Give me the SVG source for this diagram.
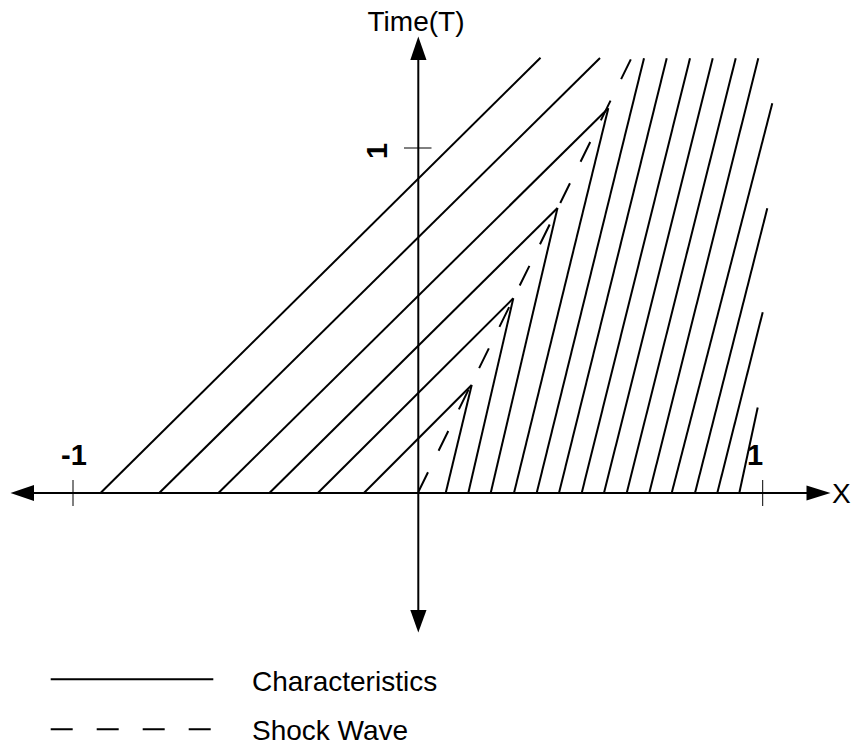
<svg xmlns="http://www.w3.org/2000/svg" width="851" height="745" viewBox="0 0 851 745">
<style>
.ch{stroke:#000;stroke-width:2;fill:none;stroke-linecap:butt}
.sh{stroke:#000;stroke-width:2;fill:none;stroke-dasharray:22 24}
.ax{stroke:#000;stroke-width:2;fill:none}
.tk{stroke:#000;stroke-width:1;fill:none}
.ah{fill:#000;stroke:none}
.lbl{font-family:"Liberation Sans",Arial,sans-serif;font-size:28px;fill:#000}
.num{font-family:"Liberation Sans",Arial,sans-serif;font-size:29px;font-weight:bold;fill:#000}
</style>
<rect width="851" height="745" fill="#fff"/>
<g id="axes">
  <line class="ax" x1="30" y1="493" x2="810" y2="493"/>
  <polygon class="ah" points="10.5,493 34,485 34,501"/>
  <polygon class="ah" points="830.5,493 806.5,485.5 806.5,500.5"/>
  <line class="ax" x1="418.3" y1="56" x2="418.3" y2="614"/>
  <polygon class="ah" points="418.3,36.5 410.3,60 426.5,60"/>
  <polygon class="ah" points="418.3,632.5 410.3,610 426.5,610"/>
  <line class="tk" x1="73" y1="480" x2="73" y2="506"/>
  <line class="tk" x1="762.7" y1="480" x2="762.7" y2="506"/>
  <line class="tk" x1="404" y1="148" x2="431.5" y2="148"/>
</g>
<g id="labels">
  <text class="lbl" x="416" y="31" text-anchor="middle">Time(T)</text>
  <text class="lbl" x="832" y="502.5">X</text>
  <text class="num" x="61" y="465">-1</text>
  <text class="num" x="747" y="465">1</text>
  <text class="num" transform="translate(387,151) rotate(-90)" text-anchor="middle">1</text>
</g>
<g id="connectors">
  <g id="characteristics-left">
    <line class="ch" x1="100.5" y1="493" x2="540.5" y2="57.8"/>
    <line class="ch" x1="159.2" y1="493" x2="600" y2="58"/>
    <line class="ch" x1="218.4" y1="493" x2="608.3" y2="108.3"/>
    <line class="ch" x1="269.4" y1="493" x2="557.5" y2="208"/>
    <line class="ch" x1="317.8" y1="493" x2="513.3" y2="298.3"/>
    <line class="ch" x1="363.9" y1="493" x2="471.7" y2="385"/>
  </g>
  <g id="characteristics-right">
    <line class="ch" x1="445.7" y1="493" x2="471.7" y2="385"/>
    <line class="ch" x1="468.3" y1="493" x2="513.3" y2="298.3"/>
    <line class="ch" x1="490.7" y1="493" x2="557.5" y2="208"/>
    <line class="ch" x1="514" y1="493" x2="608.3" y2="108.3"/>
    <line class="ch" x1="536.7" y1="493" x2="644" y2="58.3"/>
    <line class="ch" x1="559" y1="493" x2="666.7" y2="58.3"/>
    <line class="ch" x1="581.7" y1="493" x2="690" y2="58.3"/>
    <line class="ch" x1="604" y1="493" x2="712.7" y2="58.3"/>
    <line class="ch" x1="626.7" y1="493" x2="735.7" y2="58.3"/>
    <line class="ch" x1="649.3" y1="493" x2="758.3" y2="58.3"/>
    <line class="ch" x1="671.7" y1="493" x2="772.3" y2="103.3"/>
    <line class="ch" x1="695" y1="493" x2="767.3" y2="208.3"/>
    <line class="ch" x1="717.3" y1="493" x2="762.7" y2="312.3"/>
    <line class="ch" x1="739.3" y1="493" x2="757.7" y2="407.5"/>
  </g>
  <g id="shock-wave">
    <line class="sh" x1="418.3" y1="492" x2="631" y2="59"/>
  </g>
</g>
<g id="legend">
  <g id="legend-characteristics">
    <line class="ch" x1="50.7" y1="679.3" x2="213.3" y2="679.3"/>
    <text class="lbl" x="252" y="690.7">Characteristics</text>
  </g>
  <g id="legend-shock">
    <line class="sh" x1="50.7" y1="729.3" x2="212" y2="729.3"/>
    <text class="lbl" x="252" y="740">Shock Wave</text>
  </g>
</g>
</svg>
